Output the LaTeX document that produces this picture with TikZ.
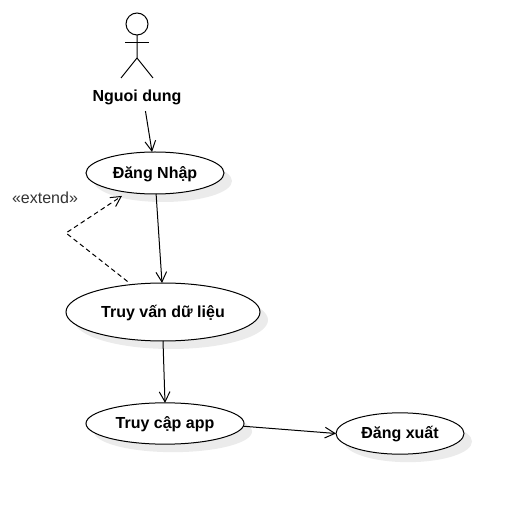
\documentclass[tikz,border=0pt]{standalone}
\usepackage{fontspec}
\setmainfont{Liberation Sans}
\usetikzlibrary{arrows.meta, shadows, shapes.geometric}

\begin{document}
\begin{tikzpicture}[
        x=0.75pt, y=-0.75pt,
        line width=0.75pt,
        >={Straight Barb[length=7.5pt, width=8pt]},
        usecase/.style={ellipse, draw, fill=white, inner sep=0pt, outer sep=0pt,
            text height=10pt, text depth=2pt, font=\fontsize{12}{14}\selectfont\bfseries,
            drop shadow={shadow xshift=6pt, shadow yshift=-6pt, fill=black!8, opacity=1}}, % Ca su dung
        actorlabel/.style={inner sep=0pt, text height=10pt, text depth=2pt, font=\fontsize{12}{14}\selectfont\bfseries},
        extendtext/.style={inner sep=0pt, text height=10pt, text depth=2pt, text=black!80, font=\fontsize{12}{14}\selectfont},
        flow/.style={->},
        extendflow/.style={->, dashed, dash pattern=on 3.5pt off 2.5pt},
    ]
    \useasboundingbox (0,0) rectangle (513,505);

    % Tac nhan
    \node[circle, draw, minimum size=16.5pt, inner sep=0pt, outer sep=0pt] (head) at (137,24) {};
    \coordinate (hip) at (137,58);
    \coordinate (armleft) at (125,43);
    \coordinate (armright) at (149,43);
    \coordinate (legleft) at (121,78);
    \coordinate (legright) at (153,78);
    \draw (head.south) -- (hip) -- (legleft);
    \draw (hip) -- (legright);
    \draw (armleft) -- (armright);
    \node[actorlabel] (nguoidung) at (137,96) {Nguoi dung};

    % Cac ca su dung
    \node[usecase, minimum width=103.5pt, minimum height=31.5pt] (dangnhap) at (155,173) {Đăng Nhập};
    \node[usecase, minimum width=145.5pt, minimum height=43.5pt] (truyvan) at (163,312) {Truy vấn dữ liệu};
    \node[usecase, minimum width=118.5pt, minimum height=31pt] (truycap) at (165,423.5) {Truy cập app};
    \node[usecase, minimum width=96pt, minimum height=31pt] (dangxuat) at (400,433.5) {Đăng xuất};

    \node[extendtext] (extendlabel) at (45,198) {«extend»};
    \coordinate (bend) at (66,233);

    \draw[flow, shorten <=5pt] (nguoidung.-49) -- (dangnhap.98);
    \draw[flow] (dangnhap.-87) -- (truyvan.92);
    \draw[flow] (truyvan.-90) -- (truycap.90);
    \draw[flow] (truycap.-2.5) -- (dangxuat.180);
    \draw[extendflow, shorten <=3.75pt, shorten >=5pt] (truyvan.139) -- (bend) -- (dangnhap.215.6);

\end{tikzpicture}
\end{document}
